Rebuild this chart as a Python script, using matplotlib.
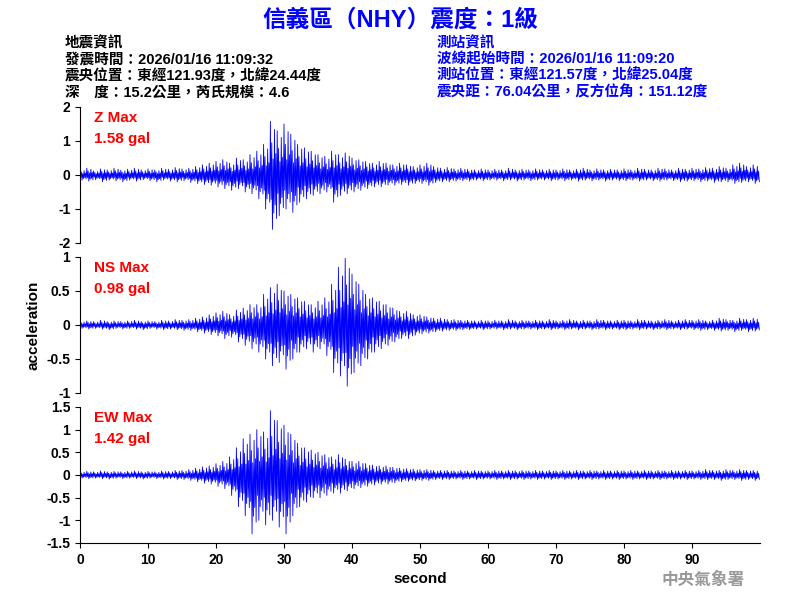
import matplotlib
matplotlib.use("Agg")
import matplotlib.pyplot as plt

plt.rcParams['font.family'] = ['Liberation Sans', 'Noto Sans CJK TC', 'DejaVu Sans']

seconds = list(range(100))
z_up = [.15,.2,.12,.18,.15,.2,.14,.17,.2,.15, .18,.15,.2,.17,.22,.18,.2,.25,.3,.35,
        .4,.45,.35,.5,.45,.6,.7,.9,1.58,1.3, 1.5,1.2,.9,.8,.7,.6,.55,.7,.6,.65,
        .5,.45,.4,.35,.4,.35,.3,.35,.3,.25, .3,.35,.25,.2,.22,.18,.2,.17,.15,.18,
        .15,.17,.15,.2,.15,.17,.15,.18,.15,.17, .15,.18,.15,.17,.2,.15,.18,.15,.17,.15,
        .18,.15,.2,.17,.15,.2,.18,.15,.2,.17, .2,.18,.22,.2,.25,.2,.3,.35,.25,.3]
z_lo = [-.15,-.18,-.14,-.2,-.15,-.17,-.2,-.15,-.18,-.14, -.17,-.2,-.15,-.18,-.2,-.17,-.22,-.25,-.28,-.3,
        -.35,-.4,-.45,-.4,-.5,-.55,-.7,-1.0,-1.6,-1.2, -1.0,-1.1,-.8,-.7,-.6,-.55,-.5,-.8,-.6,-.55,
        -.5,-.45,-.4,-.35,-.35,-.3,-.3,-.28,-.3,-.25, -.25,-.3,-.22,-.2,-.2,-.18,-.17,-.18,-.15,-.17,
        -.15,-.15,-.17,-.15,-.18,-.15,-.17,-.15,-.15,-.17, -.15,-.17,-.15,-.18,-.15,-.17,-.15,-.18,-.15,-.17,
        -.17,-.15,-.18,-.15,-.17,-.18,-.15,-.17,-.2,-.18, -.17,-.2,-.18,-.22,-.2,-.2,-.25,-.22,-.2,-.25]
ns_up = [.05,.06,.05,.07,.05,.06,.05,.06,.07,.05, .06,.05,.07,.06,.08,.07,.08,.1,.12,.15,
         .18,.2,.15,.22,.25,.3,.3,.45,.55,.6, .5,.45,.4,.35,.3,.35,.4,.6,.85,.98,
         .75,.6,.45,.4,.35,.3,.25,.2,.2,.15, .15,.12,.1,.1,.08,.08,.07,.07,.06,.07,
         .06,.07,.06,.08,.06,.07,.06,.07,.06,.08, .06,.07,.08,.06,.07,.06,.08,.07,.06,.07,
         .07,.06,.08,.07,.06,.07,.08,.06,.07,.08, .07,.08,.06,.07,.1,.08,.07,.1,.08,.1]
ns_lo = [-.05,-.06,-.05,-.06,-.07,-.05,-.06,-.05,-.06,-.07, -.05,-.06,-.07,-.06,-.07,-.08,-.08,-.1,-.12,-.14,
         -.16,-.2,-.18,-.25,-.3,-.35,-.4,-.5,-.6,-.55, -.65,-.5,-.4,-.35,-.4,-.35,-.45,-.7,-.75,-.9,
         -.7,-.6,-.5,-.4,-.35,-.3,-.25,-.2,-.2,-.15, -.13,-.12,-.1,-.09,-.08,-.08,-.07,-.07,-.06,-.07,
         -.06,-.06,-.07,-.06,-.07,-.06,-.06,-.07,-.06,-.07, -.06,-.07,-.06,-.07,-.06,-.07,-.06,-.07,-.06,-.07,
         -.07,-.06,-.07,-.06,-.07,-.06,-.07,-.06,-.07,-.06, -.07,-.08,-.07,-.08,-.09,-.08,-.1,-.08,-.1,-.09]
ew_up = [.07,.08,.07,.09,.07,.08,.07,.08,.09,.07, .08,.07,.09,.08,.1,.1,.12,.15,.18,.2,
         .25,.3,.4,.6,.8,.9,1.0,.95,1.42,1.2, 1.1,.9,.7,.6,.55,.5,.45,.4,.45,.35,
         .3,.3,.25,.22,.2,.2,.17,.15,.14,.13, .12,.12,.1,.1,.1,.09,.1,.09,.1,.09,
         .09,.1,.09,.1,.09,.1,.09,.1,.09,.1, .09,.1,.09,.1,.09,.1,.09,.1,.09,.1,
         .09,.1,.09,.1,.09,.1,.09,.1,.09,.1, .09,.1,.12,.1,.1,.12,.1,.12,.1,.1]
ew_lo = [-.07,-.08,-.07,-.08,-.09,-.07,-.08,-.07,-.08,-.09, -.07,-.08,-.09,-.08,-.1,-.1,-.12,-.15,-.18,-.2,
         -.25,-.3,-.45,-.7,-.9,-1.3,-1.0,-1.1,-1.0,-1.15, -1.3,-.9,-.7,-.6,-.5,-.5,-.45,-.4,-.4,-.35,
         -.3,-.28,-.25,-.22,-.2,-.2,-.17,-.15,-.14,-.13, -.12,-.12,-.1,-.1,-.1,-.09,-.1,-.09,-.1,-.09,
         -.09,-.1,-.09,-.1,-.09,-.1,-.09,-.1,-.09,-.1, -.09,-.1,-.09,-.1,-.09,-.1,-.09,-.1,-.09,-.1,
         -.09,-.1,-.09,-.1,-.09,-.1,-.09,-.1,-.09,-.1, -.09,-.1,-.1,-.1,-.12,-.1,-.1,-.12,-.1,-.12]

labels = ["Z Max\n1.58 gal", "NS Max\n0.98 gal", "EW Max\n1.42 gal"]
ylims = [(-2, 2), (-1, 1), (-1.5, 1.5)]
yticks = [[-2, -1, 0, 1, 2], [-1, -0.5, 0, 0.5, 1], [-1.5, -1, -0.5, 0, 0.5, 1, 1.5]]
ytl = [["-2","-1","0","1","2"], ["-1","-0.5","0","0.5","1"], ["-1.5","-1","-0.5","0","0.5","1","1.5"]]

pattern = [1.0, -0.45, 0.6, -1.0, 0.3, -0.7, 0.85, -0.55, 0.4, -0.8]

fig = plt.figure(figsize=(8, 6), dpi=100)
tops = [107, 257, 407]
blue = "#0000ff"
for k, (up, lo) in enumerate([(z_up, z_lo), (ns_up, ns_lo), (ew_up, ew_lo)]):
    ax = fig.add_axes([80/800, 1 - (tops[k] + 136)/600, 680/800, 136/600])
    t = []; v = []
    n = len(pattern)
    for i in seconds:
        for j, p in enumerate(pattern):
            t.append(i + j / n)
            v.append(up[i] * p if p > 0 else lo[i] * (-p))
    ax.plot(t, v, color=blue, lw=0.6)
    ax.set_xlim(0, 100)
    ax.set_ylim(*ylims[k])
    ax.set_yticks(yticks[k]); ax.set_yticklabels(ytl[k], fontsize=10, fontweight="bold")
    for s in ["top", "right"]:
        ax.spines[s].set_visible(False)
    if k < 2:
        ax.spines["bottom"].set_visible(False)
        ax.set_xticks([])
    else:
        ax.set_xticks(range(0, 100, 10))
        ax.set_xticklabels([str(x) for x in range(0, 100, 10)], fontsize=10, fontweight="bold")
        ax.set_xlabel("second", fontsize=11, fontweight="bold")
    ax.text(0.02, 0.97, labels[k], transform=ax.transAxes, color="red", fontsize=11,
            fontweight="bold", va="top", linespacing=1.6)
    if k == 1:
        ax.set_ylabel("acceleration", fontsize=11, fontweight="bold")

fig.text(0.5, 1 - 20/600, "信義區（NHY）震度：1級", color=blue, fontsize=17,
         fontweight="bold", ha="center", va="center")
left = ["地震資訊", "發震時間：2026/01/16 11:09:32", "震央位置：東經121.93度，北緯24.44度",
        "深　度：15.2公里，芮氏規模：4.6"]
right = ["測站資訊", "波線起始時間：2026/01/16 11:09:20", "測站位置：東經121.57度，北緯25.04度",
         "震央距：76.04公里，反方位角：151.12度"]
for i, s in enumerate(left):
    fig.text(65/800, 1 - (43 + i*16.5)/600, s, fontsize=10.5, fontweight="bold", va="center")
for i, s in enumerate(right):
    fig.text(437/800, 1 - (43 + i*16.5)/600, s, fontsize=10.5, fontweight="bold", va="center", color=blue)
fig.text(745/800, 1 - 580/600, "中央氣象署", color="#999999", fontsize=12, fontweight="bold",
         ha="right", va="center")
fig.savefig("out.png", dpi=100)
